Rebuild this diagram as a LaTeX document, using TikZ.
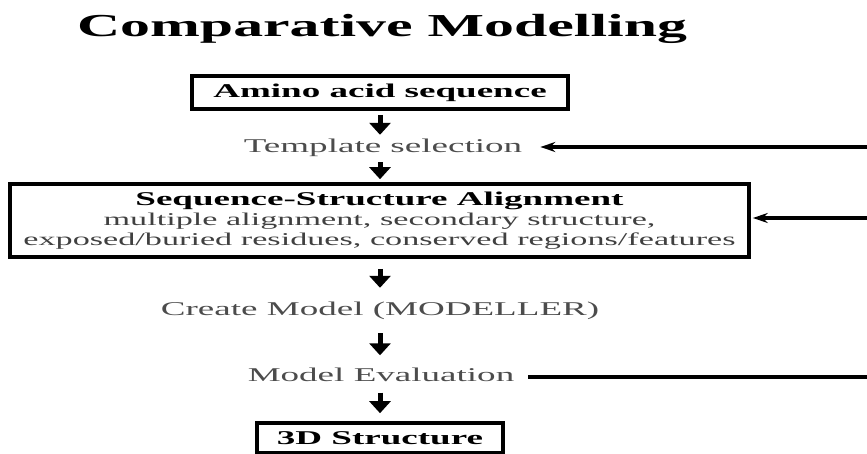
\documentclass[tikz,border=0pt]{standalone}
\usepackage{fontspec}
\setmainfont{Liberation Serif}
\usepackage{graphicx}
\usetikzlibrary{arrows.meta}
\newcommand{\wide}[1]{\scalebox{1.9}[1]{#1}}
\newcommand{\subtxt}{\fontsize{18}{20}\selectfont\mdseries\color{black!75}}
\tikzset{
  txt/.style={inner sep=0pt, text height=13pt, text depth=4pt,
    font=\fontsize{19.5}{20}\selectfont, text=black!70},
  frame/.style={draw, line width=3.6pt, inner sep=0pt, align=center,
    font=\fontsize{19.5}{20}\selectfont\bfseries},
  down/.style={-{Triangle[width=21pt,length=12pt]}, line width=5pt},
  feed/.style={line width=3.2pt},
  feedin/.style={feed, -{Stealth[width=10pt,length=15pt,inset=5pt]}},
}

\begin{document}
\begin{tikzpicture}[x=1pt, y=-1pt]
    \useasboundingbox (0,0) rectangle (867,454);
    % title
    \node[anchor=base, font=\fontsize{32}{36}\selectfont\bfseries] (title) at (382,37)
      {\scalebox{1.87}[1]{Comparative Modelling}};
    % steps
    \node[frame, minimum width=376pt, minimum height=33pt] (amino) at (380,92.5) {\wide{Amino acid sequence}};
    \node[txt, anchor=base] (tmpl) at (383,153) {\wide{Template selection}};
    \node[frame, minimum width=739pt, minimum height=73pt] (ssa) at (379.5,220.5)
      {\wide{Sequence-Structure Alignment}\\
       \wide{\subtxt multiple alignment, secondary structure,}\\
       \wide{\subtxt exposed/buried residues, conserved regions/features}};
    \node[txt, anchor=base] (create) at (380,315) {\wide{Create Model (MODELLER)}};
    \node[txt, anchor=base] (eval) at (381,381.5) {\wide{Model Evaluation}};
    \node[frame, minimum width=246pt, minimum height=30pt] (final) at (380,438) {\wide{3D Structure}};
    % flow down
    \draw[down, shorten <=4pt, shorten >=5pt] (amino.south) -- (amino.south |- tmpl.north);
    \draw[down, shorten <=5pt, shorten >=3pt] (amino.south |- tmpl.south) -- (amino.south |- ssa.north);
    \draw[down, shorten <=10pt, shorten >=14pt] (amino.south |- ssa.south) -- (amino.south |- create.north);
    \draw[down, shorten <=14pt, shorten >=13pt] (amino.south |- create.south) -- (amino.south |- eval.north);
    \draw[down, shorten <=7pt, shorten >=8pt] (amino.south |- eval.south) -- (final.north);
    % feedback lines from the right
    \coordinate (r1) at (867,147);
    \coordinate (r2) at (867,218);
    \coordinate (r3) at (867,377);
    \draw[feedin, shorten >=18pt] (r1) -- (tmpl.east |- r1);
    \draw[feedin, shorten >=2pt] (r2) -- (ssa.east |- r2);
    \draw[feed, shorten <=14pt] (eval.east |- r3) -- (r3);
  \end{tikzpicture}
\end{document}
